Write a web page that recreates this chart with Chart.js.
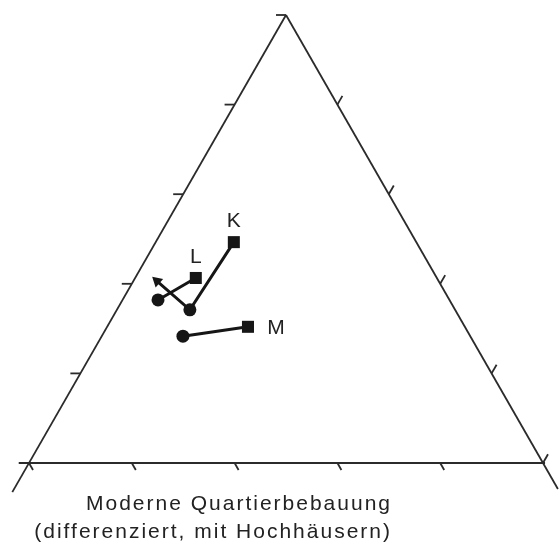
<!DOCTYPE html>
<html lang="de">
<head>
<meta charset="utf-8">
<title>Moderne Quartierbebauung</title>
<script src="https://cdn.jsdelivr.net/npm/chart.js@4/dist/chart.umd.min.js"></script>
<style>
  html, body { margin: 0; padding: 0; background: #fff; }
  canvas { display: block; }
</style>
</head>
<body>
<canvas id="ternaryChart" width="560" height="551"></canvas>
<script>
// =======================
// Daten: Anteile (links, oben, rechts) je Quartier, 0..1
// Reihenfolge der Punkte: Quadrat, Kreis, (Pfeil)
// =======================
const quartiere = ['K', 'L', 'M'];

const kLinks  = [0.355, 0.516, 0.548];
const kOben   = [0.493, 0.342, 0.406];
const kRechts = [0.152, 0.142, 0.046];

const lLinks  = [0.469, 0.567];
const lOben   = [0.413, 0.364];
const lRechts = [0.118, 0.069];

const mLinks  = [0.422, 0.559];
const mOben   = [0.304, 0.283];
const mRechts = [0.274, 0.158];

// Teilstriche auf den Dreiecksseiten
const tickWerte = [0, 0.2, 0.4, 0.6, 0.8, 1];

// Beschriftung unter dem Dreieck
const titelZeilen = ['Moderne Quartierbebauung', '(differenziert, mit Hochhäusern)'];

// =======================
// Umrechnung ternär -> kartesisch (x = rechts + oben/2, y = oben)
// =======================
function toXY(links, oben, rechts) {
    return oben.map((o, i) => ({ x: rechts[i] + o / 2, y: o }));
}

const linie = '#161616';
const rahmen = '#2b2b2b';

// Rahmen: drei Seiten, unten etwas verlängert
const seiten = [
    [{ x: 0.5, y: 1 }, { x: -0.0325, y: -0.065 }],
    [{ x: 0.5, y: 1 }, { x: 1.029, y: -0.058 }],
    [{ x: -0.02, y: 0 }, { x: 1.004, y: 0 }]
];

// Teilstriche (Länge ca. 10 px)
const striche = [];
tickWerte.forEach(t => {
    if (t > 0) striche.push([{ x: t / 2, y: t }, { x: t / 2 - 0.0195, y: t }]); // links, waagrecht
    if (t < 1) {
        striche.push([{ x: 1 - t / 2, y: t }, { x: 1 - t / 2 + 0.0097, y: t + 0.0194 }]); // rechts
        striche.push([{ x: t, y: 0 }, { x: t + 0.0078, y: -0.0156 }]); // unten
    }
});

const rahmenDatasets = seiten.concat(striche).map(seg => ({
    data: seg,
    showLine: true,
    borderColor: rahmen,
    borderWidth: 1.8,
    pointRadius: 0,
    label: 'rahmen'
}));

const serienStil = {
    showLine: true,
    borderColor: linie,
    backgroundColor: linie,
    borderWidth: 3,
    pointBorderWidth: 0
};

const datasets = rahmenDatasets.concat([
    Object.assign({
        label: quartiere[0],
        data: toXY(kLinks, kOben, kRechts),
        pointStyle: ['rect', 'circle', 'triangle'],
        rotation: [0, 0, -48],
        pointRadius: [8.5, 6.5, 6.5]
    }, serienStil),
    Object.assign({
        label: quartiere[1],
        data: toXY(lLinks, lOben, lRechts),
        pointStyle: ['rect', 'circle'],
        pointRadius: [8.5, 6.5]
    }, serienStil),
    Object.assign({
        label: quartiere[2],
        data: toXY(mLinks, mOben, mRechts),
        pointStyle: ['rect', 'circle'],
        pointRadius: [8.5, 6.5]
    }, serienStil)
]);

// =======================
// Plugin: Buchstaben an den Quadraten und Text unten
// =======================
const beschriftung = {
    id: 'beschriftung',
    afterDatasetsDraw(chart) {
        const ctx = chart.ctx;
        ctx.save();
        ctx.fillStyle = '#222';
        ctx.font = '21px "Liberation Sans", Arial, sans-serif';
        const offsets = { K: [0, -21], L: [0, -21], M: [28, 1] };
        chart.data.datasets.forEach((ds, i) => {
            if (!offsets[ds.label]) return;
            const p = chart.getDatasetMeta(i).data[0];
            ctx.textAlign = 'center';
            ctx.textBaseline = 'middle';
            ctx.fillText(ds.label, p.x + offsets[ds.label][0], p.y + offsets[ds.label][1]);
        });
        ctx.letterSpacing = '2px';
        ctx.textAlign = 'right';
        ctx.textBaseline = 'alphabetic';
        titelZeilen.forEach((z, i) => ctx.fillText(z, 392, 510 + i * 28));
        ctx.restore();
    }
};

const ctx = document.getElementById('ternaryChart').getContext('2d');

const ternaryChart = new Chart(ctx, {
    type: 'scatter',
    data: { datasets: datasets },
    options: {
        responsive: false,
        animation: false,
        layout: { padding: 0, autoPadding: false },
        plugins: {
            legend: { display: false },
            tooltip: { enabled: false }
        },
        scales: {
            x: { type: 'linear', display: false, min: -0.05642, max: 1.03307 },
            y: { type: 'linear', display: false, min: -0.19643, max: 1.03348 }
        }
    },
    plugins: [beschriftung]
});
</script>
</body>
</html>
